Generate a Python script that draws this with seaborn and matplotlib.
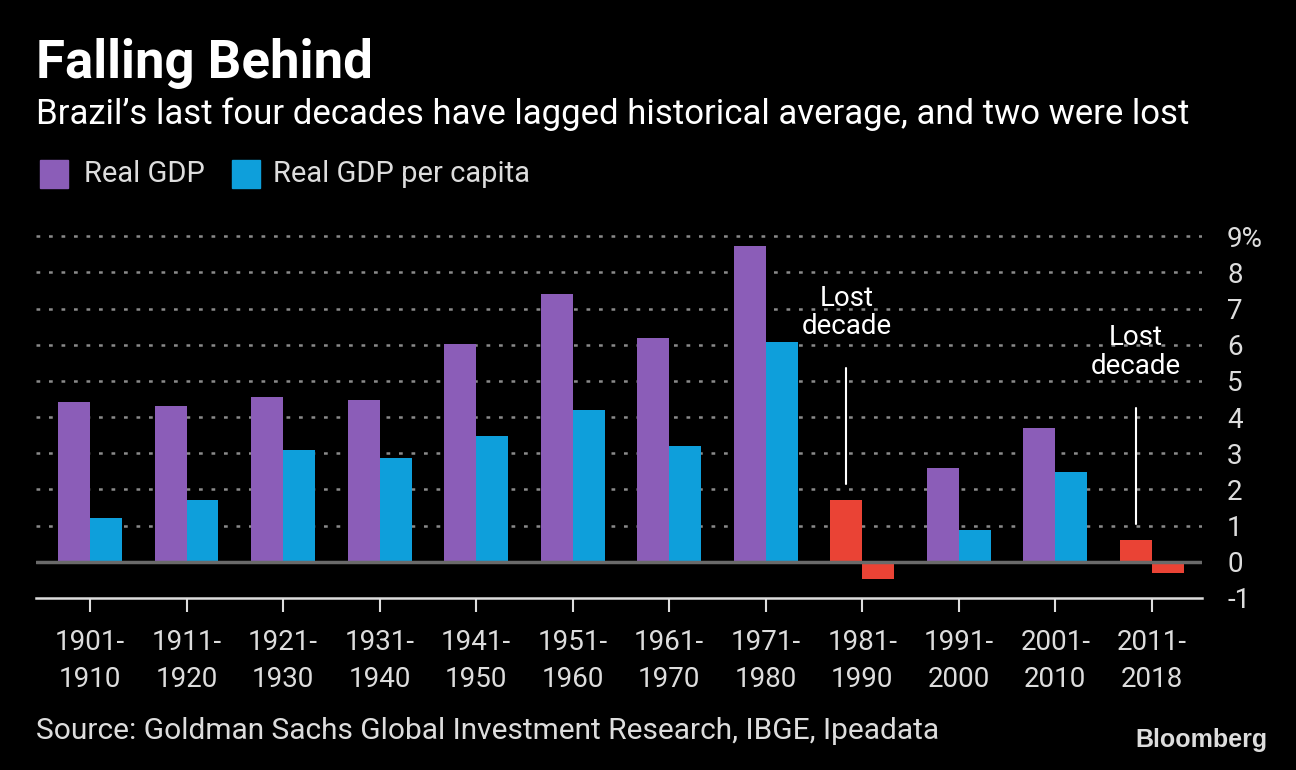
import numpy as np
import pandas as pd
import matplotlib
matplotlib.use("Agg")
import matplotlib.pyplot as plt
import seaborn as sns
from matplotlib.patches import Rectangle

BG = "#000000"
PURPLE = "#8B5DB8"
BLUE = "#0E9FDB"
RED = "#EA4335"
TXT = "#FFFFFF"
GREY_TXT = "#DDDDDD"

periods = ["1901-\n1910", "1911-\n1920", "1921-\n1930", "1931-\n1940",
           "1941-\n1950", "1951-\n1960", "1961-\n1970", "1971-\n1980",
           "1981-\n1990", "1991-\n2000", "2001-\n2010", "2011-\n2018"]
real_gdp = [4.42, 4.31, 4.56, 4.48, 6.02, 7.40, 6.19, 8.73, 1.71, 2.60, 3.70, 0.61]
gdp_per_capita = [1.22, 1.71, 3.09, 2.87, 3.48, 4.20, 3.20, 6.08, -0.47, 0.88, 2.49, -0.30]
lost = ["1981-\n1990", "2011-\n2018"]
yticks = [-1, 0, 1, 2, 3, 4, 5, 6, 7, 8, 9]
ylabels = ["-1", "0", "1", "2", "3", "4", "5", "6", "7", "8", "9%"]

df = pd.DataFrame({
    "period": periods * 2,
    "value": real_gdp + gdp_per_capita,
    "series": ["Real GDP"] * len(periods) + ["Real GDP per capita"] * len(periods),
})

sns.set_theme(style="dark")
FONT = ["Roboto", "DejaVu Sans"]
plt.rcParams["font.family"] = FONT

fig = plt.figure(figsize=(12.96, 7.7), dpi=100, facecolor=BG)
ax = fig.add_axes([0.0278, 0.2234, 0.8997, 0.4792])
ax.set_facecolor(BG)

sns.barplot(data=df, x="period", y="value", hue="series", order=periods,
            palette=[PURPLE, BLUE], width=0.66, saturation=1, legend=False,
            linewidth=0, ax=ax)

# lost decades in red
for cont in ax.containers:
    for p, per in zip(cont.patches, periods):
        if per in lost:
            p.set_facecolor(RED)

ax.set_xlim(-0.56, 11.52)
ax.set_ylim(-1, 9.2)

for y in range(1, 10):
    ax.axhline(y, color="#8a8a8a", lw=1.8, ls=(0, (1.5, 3.5)), zorder=0)
ax.axhline(0, color="#6a6a6a", lw=2.5, zorder=3)

for s in ["top", "right", "left"]:
    ax.spines[s].set_visible(False)
ax.spines["bottom"].set_color("#DDDDDD")
ax.spines["bottom"].set_linewidth(1.8)

ax.yaxis.tick_right()
ax.set_yticks(yticks)
ax.set_yticklabels(ylabels)
ax.tick_params(axis="y", length=0, pad=18, labelsize=20, labelcolor=GREY_TXT)
ax.tick_params(axis="x", length=10, width=1.5, color="#DDDDDD", pad=12,
               labelsize=20, labelcolor=GREY_TXT, direction="out", bottom=True)
for lab in ax.get_xticklabels():
    lab.set_linespacing(1.5)
ax.set_xlabel("")
ax.set_ylabel("")
ax.grid(False)

# annotations
ax.text(7.835, 6.9, "Lost\ndecade", color=TXT, fontsize=20, ha="center",
        va="center", linespacing=1.05)
ax.plot([7.835, 7.835], [2.15, 5.36], color=TXT, lw=1.5)
ax.text(10.835, 5.8, "Lost\ndecade", color=TXT, fontsize=20, ha="center",
        va="center", linespacing=1.05)
ax.plot([10.835, 10.835], [1.05, 4.25], color=TXT, lw=1.5)

# titles
fig.text(0.028, 0.918, "Falling Behind", color=TXT, fontsize=38, fontweight="bold",
         ha="left", va="center")
fig.text(0.028, 0.852, "Brazil\u2019s last four decades have lagged historical average, and two were lost",
         color=TXT, fontsize=25, ha="left", va="center")

# legend
leg_y = 1 - 174 / 770
for x0, col, lab, tx in [(40, PURPLE, "Real GDP", 84), (232, BLUE, "Real GDP per capita", 273)]:
    fig.patches.append(Rectangle((x0 / 1296, 1 - 188 / 770), 28 / 1296, 28 / 770,
                                 transform=fig.transFigure, color=col))
    fig.text(tx / 1296, leg_y, lab, color=GREY_TXT, fontsize=21, ha="left", va="center")

fig.text(0.028, 1 - 731 / 770, "Source: Goldman Sachs Global Investment Research, IBGE, Ipeadata",
         color=GREY_TXT, fontsize=21.5, ha="left", va="center")
fig.text(0.978, 1 - 740 / 770, "Bloomberg", color="#DDDDDD", fontsize=18,
         fontweight="bold", ha="right", va="center", family=["Liberation Sans", "DejaVu Sans"])

fig.savefig("out.png", dpi=100, facecolor=BG)
